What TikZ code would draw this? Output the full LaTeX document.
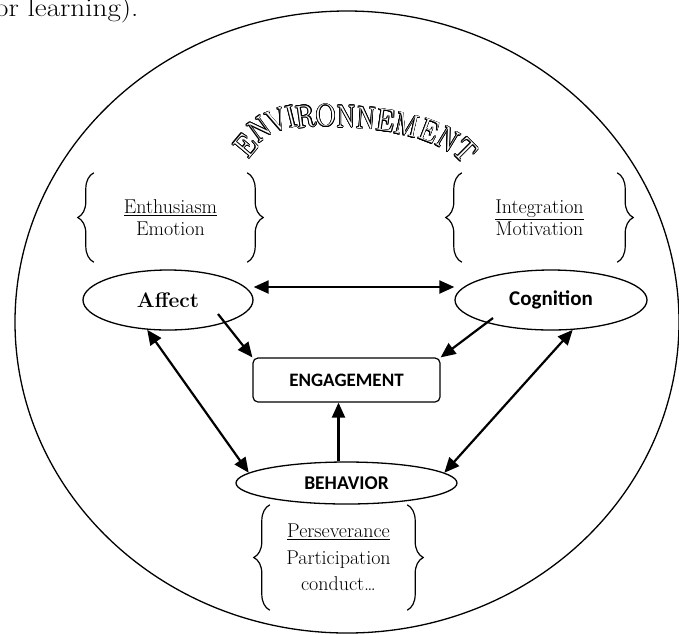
\documentclass[tikz,border=0pt]{standalone}
\usepackage{fontspec}
\newfontfamily\calibri{Carlito}
\usepackage{contour}
\usetikzlibrary{shapes.geometric,arrows.meta,decorations.pathreplacing}

\contourlength{0.7pt}
\newcommand{\envletter}[1]{\contour{black}{\textcolor{white}{#1}}}

\tikzset{
  oval/.style={ellipse,draw,line width=1.3pt,inner sep=0pt},
  arr/.style={line width=2.2pt,-{Triangle[length=15pt,width=13pt]}},
  dblarr/.style={line width=2.2pt,{Triangle[length=15pt,width=13pt]}-{Triangle[length=15pt,width=13pt]}},
  brc/.style={decorate,decoration={brace,amplitude=16pt},line width=1.2pt},
  listbox/.style={align=center,inner sep=0pt,font=\fontsize{20}{22}\selectfont}
}

\begin{document}
\begin{tikzpicture}[x=1pt,y=-1pt]
    	        % Page
    	        \useasboundingbox (0,0) rectangle (679,633);
    	        \node[anchor=base west,inner sep=0pt,xscale=1.12,font=\fontsize{26}{26}\selectfont] (prevtext) at (-5,16) {or learning).};
    	        % Environment
    	        \draw[line width=1.3pt] (347,322) ellipse [x radius=332pt,y radius=311pt];
    	        \foreach \l/\px/\py/\r [count=\i] in {E/246/146/50,N/260/129.5/36,V/277.5/121/22,I/291.5/117/14,R/305.7/117/8,O/325.7/116/3,N/346/117/0,N/366/118.5/-4,E/385.5/121/-8,M/407/125.5/-13,E/429/131.5/-21,N/448/140/-31,T/465/151/-45}
    	            \node[rotate=\r,yscale=1.12,inner sep=0pt,font=\fontsize{28}{28}\selectfont] (env\i) at (\px,\py) {\envletter{\l}};
    	        % Lists
    	        \node[listbox,minimum width=153pt,minimum height=89pt] (affectlist) at (170.5,217.5) {\underline{Enthusiasm}\\Emotion};
    	        \node[listbox,minimum width=155pt,minimum height=89pt] (cognlist) at (539.5,217.5) {\underline{Integration}\\Motivation};
    	        \node[listbox,font=\fontsize{20}{26.5}\selectfont,minimum width=137pt,minimum height=105pt] (behavlist) at (338.5,557.5) {\underline{Perseverance}\\Participation\\conduct\dots};
    	        \draw[brc] (affectlist.south west) -- (affectlist.north west);
    	        \draw[brc] (affectlist.north east) -- (affectlist.south east);
    	        \draw[brc] (cognlist.south west) -- (cognlist.north west);
    	        \draw[brc] (cognlist.north east) -- (cognlist.south east);
    	        \draw[brc] (behavlist.south west) -- (behavlist.north west);
    	        \draw[brc] (behavlist.north east) -- (behavlist.south east);
    	        % Components
    	        \node[oval,minimum width=170pt,minimum height=60pt,font=\fontsize{21}{21}\selectfont\bfseries] (affect) at (168,300) {Affect};
    	        \node[oval,minimum width=192pt,minimum height=60pt,font=\fontsize{21}{21}\calibri\bfseries] (cogn) at (551,300) {Cognition};
    	        \node[oval,minimum width=221pt,minimum height=42pt,font=\fontsize{19.5}{19.5}\calibri\bfseries] (behav) at (346.5,483) {BEHAVIOR};
    	        \node[draw,rounded corners=5pt,line width=1.2pt,minimum width=187pt,minimum height=44pt,font=\fontsize{19}{19}\calibri\bfseries] (engage) at (346.5,380) {ENGAGEMENT};
    	        % Links
    	        \draw[dblarr] ([yshift=13pt]affect.east) -- ([yshift=13pt]cogn.west);
    	        \draw[arr] ([shift={(50pt,-14pt)}]affect.center) -- (engage.north west);
    	        \draw[arr] ([shift={(-58pt,-18pt)}]cogn.center) -- (engage.north east);
    	        \draw[arr] ([xshift=-8pt]behav.north) -- ([xshift=-8pt]engage.south);
    	        \draw[dblarr] (affect.235) -- (behav.174);
    	        \draw[dblarr] (cogn.-54) -- (behav.6);
\end{tikzpicture}
\end{document}
